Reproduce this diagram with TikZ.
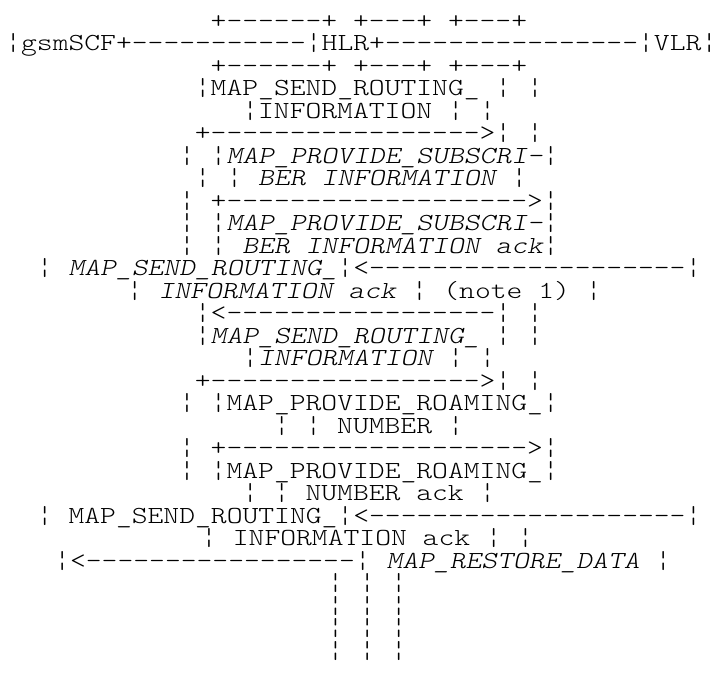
\documentclass[tikz,border=0pt]{standalone}
\usepackage{tikz}
\tikzset{
  row/.style={anchor=base west, inner sep=0pt,
              font=\ttfamily\fontseries{l}\fontsize{24.5}{24.5}\selectfont},
}
% wide monospace text and runs of hyphens (no dash ligatures)
\newcommand\wide[1]{\scalebox{1.23}[1]{#1}}
\newcommand\dsh[1]{\foreach\i in {1,...,#1}{-\kern0pt}}

\begin{document}
\begin{tikzpicture}[x=15.8pt,y=-22.5pt]
  \useasboundingbox[fill=white] (-0.3228,-0.2444) rectangle (45.247,29.756);
  % entities
  \node[row] (r1) at (13,1) {\wide{+\dsh{6}+ +\dsh{3}+ +\dsh{3}+}};
  \node[row] (r2) at (0,2) {\wide{¦gsmSCF+\dsh{11}¦HLR+\dsh{16}¦VLR¦}};
  \node[row] (r3) at (13,3) {\wide{+\dsh{6}+ +\dsh{3}+ +\dsh{3}+}};
  % first routing request
  \node[row] (r4) at (12,4) {\wide{¦MAP\_SEND\_ROUTING\_ ¦ ¦}};
  \node[row] (r5) at (15,5) {\wide{¦INFORMATION ¦ ¦}};
  \node[row] (r6) at (12,6) {\wide{+\dsh{17}>¦ ¦}};
  \node[row] (r7) at (11,7) {\wide{¦ ¦{\itshape MAP\_PROVIDE\_SUBSCRI-}¦}};
  \node[row] (r8) at (12,8) {\wide{¦ ¦ {\itshape BER INFORMATION} ¦}};
  \node[row] (r9) at (11,9) {\wide{¦ +\dsh{19}>¦}};
  \node[row] (r10) at (11,10) {\wide{¦ ¦{\itshape MAP\_PROVIDE\_SUBSCRI-}¦}};
  \node[row] (r11) at (11,11) {\wide{¦ ¦ {\itshape BER INFORMATION ack}¦}};
  \node[row] (r12) at (2,12) {\wide{¦ {\itshape MAP\_SEND\_ROUTING\_}¦<\dsh{20}¦}};
  \node[row] (r13) at (7.7,13) {\wide{¦ {\itshape INFORMATION ack} ¦ (note 1) ¦}};
  \node[row] (r14) at (12,14) {\wide{¦<\dsh{17}¦ ¦}};
  % second routing request
  \node[row] (r15) at (12,15) {\wide{¦{\itshape MAP\_SEND\_ROUTING\_} ¦ ¦}};
  \node[row] (r16) at (15,16) {\wide{¦{\itshape INFORMATION} ¦ ¦}};
  \node[row] (r17) at (12,17) {\wide{+\dsh{17}>¦ ¦}};
  \node[row] (r18) at (11,18) {\wide{¦ ¦MAP\_PROVIDE\_ROAMING\_¦}};
  \node[row] (r19) at (17,19) {\wide{¦ ¦ NUMBER ¦}};
  \node[row] (r20) at (11,20) {\wide{¦ +\dsh{19}>¦}};
  \node[row] (r21) at (11,21) {\wide{¦ ¦MAP\_PROVIDE\_ROAMING\_¦}};
  \node[row] (r22) at (15,22) {\wide{¦ ¦ NUMBER ack ¦}};
  \node[row] (r23) at (2,23) {\wide{¦ MAP\_SEND\_ROUTING\_¦<\dsh{20}¦}};
  \node[row] (r24) at (12.4,24) {\wide{¦ INFORMATION ack ¦ ¦}};
  \node[row] (r25) at (3.1,25) {\wide{¦<\dsh{17}¦ {\itshape MAP\_RESTORE\_DATA} ¦}};
  % lifelines
  \foreach \k in {26,...,29}
    \node[row] (r\k) at (20.4,\k) {\wide{¦ ¦ ¦}};
\end{tikzpicture}
\end{document}
